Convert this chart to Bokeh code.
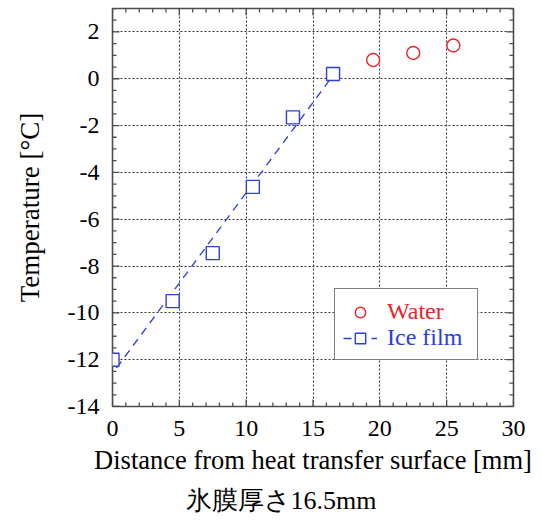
import numpy as np
from bokeh.plotting import figure
from bokeh.models import (Legend, LegendItem, SingleIntervalTicker,
                          Range1d, Title, PrintfTickFormatter)
from bokeh.embed import file_html
from bokeh.resources import INLINE

# ---- data ----
water_x = [19.5, 22.5, 25.5]
water_y = [0.8, 1.1, 1.42]
ice_x = [0.0, 4.5, 7.5, 10.5, 13.5, 16.5]
ice_y = [-12.0, -9.5, -7.45, -4.62, -1.65, 0.2]
fit_x_ends = [0.3, 16.3]

x_tick_step = 5
y_tick_step = 2
x_minor_step = 1
y_minor_step = 0.5
subtitle = "氷膜厚さ16.5mm"
xlabel = "Distance from heat transfer surface [mm]"
ylabel = "Temperature [°C]"

slope, intercept = np.polyfit(ice_x, ice_y, 1)
fit_x = np.array(fit_x_ends)
fit_y = slope * fit_x + intercept

FONT = "Liberation Serif"
FRAME = "#4d4d4d"
RED = "#e8262b"
BLUE = "#2b3ee0"

p = figure(frame_width=401, frame_height=398,
           x_range=Range1d(0, 30), y_range=Range1d(-14, 3),
           output_backend="svg", toolbar_location=None,
           min_border_left=112, min_border_right=21,
           min_border_top=8, min_border_bottom=110)
p.background_fill_color = "white"
p.border_fill_color = "white"
p.outline_line_color = FRAME
p.outline_line_width = 1.6

xt = SingleIntervalTicker(interval=x_tick_step, num_minor_ticks=5)
yt = SingleIntervalTicker(interval=y_tick_step, num_minor_ticks=4)
p.xaxis.ticker = xt
p.yaxis.ticker = yt
p.xaxis.formatter = PrintfTickFormatter(format="%d")
p.yaxis.formatter = PrintfTickFormatter(format="%d")

for ax in (p.xaxis[0], p.yaxis[0]):
    ax.axis_line_color = None
    ax.major_tick_line_color = None
    ax.minor_tick_line_color = None
    ax.major_tick_out = 0
    ax.minor_tick_out = 0
    ax.major_label_text_font = FONT
    ax.major_label_text_font_size = "24px"
    ax.major_label_text_color = "black"
    ax.axis_label_text_font = FONT
    ax.axis_label_text_font_style = "normal"
    ax.axis_label_text_color = "black"
p.xaxis.major_label_standoff = 14
p.yaxis.major_label_standoff = 13
p.xaxis.axis_label = xlabel
p.yaxis.axis_label = ylabel
p.xaxis.axis_label_text_font_size = "26.5px"
p.yaxis.axis_label_text_font_size = "27px"
p.xaxis.axis_label_standoff = 6
p.yaxis.axis_label_standoff = 20

for g, tk in ((p.xgrid[0], xt), (p.ygrid[0], yt)):
    g.ticker = tk
    g.grid_line_color = "#333333"
    g.grid_line_dash = "2 2"
    g.grid_line_width = 1.1

# ---- inward ticks on all four sides (half of each dash is clipped by the frame) ----
x0, x1 = p.x_range.start, p.x_range.end
y0, y1 = p.y_range.start, p.y_range.end
x_major = np.arange(x0, x1 + 1e-9, x_tick_step)
y_major = np.arange(y0, y1 + 1e-9, y_tick_step)
x_minor = np.array([v for v in np.arange(x0, x1 + 1e-9, x_minor_step)
                    if abs(v / x_tick_step - round(v / x_tick_step)) > 1e-6])
y_minor = np.array([v for v in np.arange(y0, y1 + 1e-9, y_minor_step)
                    if abs((v - y0) / y_tick_step - round((v - y0) / y_tick_step)) > 1e-6])

for ticks, size in ((x_major, 14), (x_minor, 8)):
    for edge in (y0, y1):
        p.scatter(ticks, np.full(len(ticks), edge), marker="dash", angle=np.pi / 2,
                  size=size, line_color=FRAME, line_width=1.3)
for ticks, size in ((y_major, 14), (y_minor, 8)):
    for edge in (x0, x1):
        p.scatter(np.full(len(ticks), edge), ticks, marker="dash",
                  size=size, line_color=FRAME, line_width=1.3)

# ---- marks ----
fit = p.line(fit_x, fit_y, line_color=BLUE, line_width=1.3, line_dash="8 6")
ice = p.scatter(ice_x, ice_y, marker="square", size=13, line_color=BLUE,
                fill_color="white", line_width=1.4)
water = p.scatter(water_x, water_y, marker="circle", size=13, line_color=RED,
                  fill_color="white", line_width=1.4)
dummy = p.scatter([], [], marker="circle", size=1, fill_alpha=0, line_alpha=0)

PAD = 9
GW = 34
STAND = 10
LX, LY = 222, 46
ROW = 26


def make_legend(items, loc, color):
    lg = Legend(items=items, location=loc, orientation="vertical")
    lg.label_text_font = FONT
    lg.label_text_font_size = "24px"
    lg.label_text_color = color
    lg.glyph_width = GW
    lg.glyph_height = ROW
    lg.label_height = ROW
    lg.label_standoff = STAND
    lg.spacing = 0
    lg.margin = 0
    lg.border_line_color = None
    lg.background_fill_alpha = 0
    return lg


# framed white box of the legend (no text of its own)
box = make_legend([LegendItem(label="", renderers=[dummy])], (LX, LY), "black")
box.padding = PAD
box.glyph_height = 2 * ROW
box.label_height = 2 * ROW
box.label_width = 80
box.border_line_color = "black"
box.border_line_width = 1.5
box.background_fill_color = "white"
box.background_fill_alpha = 1.0

leg_water = make_legend([LegendItem(label="Water", renderers=[water])],
                        (LX + PAD, LY + PAD + ROW), RED)
leg_ice = make_legend([LegendItem(label="Ice film", renderers=[fit, ice])],
                      (LX + PAD, LY + PAD), BLUE)
for lg in (box, leg_water, leg_ice):
    p.add_layout(lg, "center")

t = Title(text=subtitle, align="left", offset=73, standoff=12,
          text_font=FONT, text_font_size="26px", text_font_style="normal",
          text_color="black")
p.add_layout(t, "below")

open("out.html", "w").write(file_html(p, INLINE))
